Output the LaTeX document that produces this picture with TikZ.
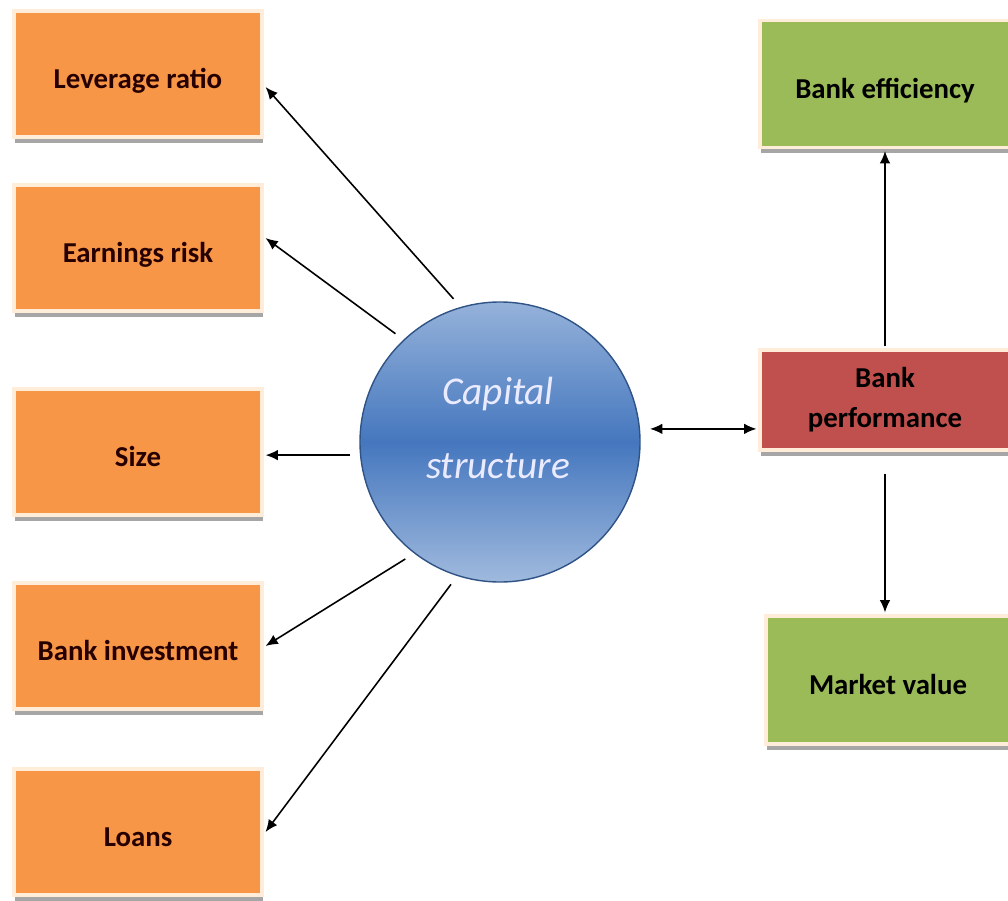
\documentclass[tikz,border=0pt]{standalone}
\usepackage{fontspec}
\setmainfont{Carlito}
\usepackage{tikz}
\usetikzlibrary{arrows.meta,shadows}
\definecolor{boxorange}{HTML}{F79646}
\definecolor{boxgreen}{HTML}{9BBB59}
\definecolor{boxred}{HTML}{C0504D}
\definecolor{capdark}{HTML}{4577BE}
\definecolor{caplight}{HTML}{95B2DA}

\begin{document}
\begin{tikzpicture}[
	tile/.style={rectangle, draw=white!85!orange, line width=0.9pt, minimum width=2.48cm, minimum height=1.26cm, inner sep=1pt, outer sep=1pt, align=center, font=\fontsize{8.2}{11.4}\selectfont\bfseries, drop shadow={shadow xshift=0.4pt, shadow yshift=-1.7pt, fill=black!35, opacity=1}},
	factor/.style={tile, fill=boxorange, text=black!85!red, text height=10pt, text depth=2pt},
	outcome/.style={tile, fill=boxgreen, text=black, text height=10pt, text depth=2pt},
	link/.style={-{Latex[length=3.5pt,width=3pt]}, line width=0.45pt}
	]
	\useasboundingbox (0,0) rectangle (10.08,9);
	\node[factor] (lev) at (1.38,8.26) {Leverage ratio};
	\node[factor] (earn) at (1.38,6.52) {Earnings risk};
	\node[factor] (size) at (1.38,4.48) {Size};
	\node[factor] (inv) at (1.38,2.54) {Bank investment};
	\node[factor] (loans) at (1.38,0.68) {Loans};
	\node[outcome, minimum width=2.5cm, minimum height=1.27cm] (eff) at (8.85,8.16) {Bank efficiency};
	\node[tile, fill=boxred, text=black, minimum width=2.5cm, minimum height=1.0cm] (perf) at (8.85,5.0) {Bank\\performance};
	\node[outcome, minimum width=2.44cm, minimum height=1.28cm] (mkt) at (8.88,2.2) {Market value};
	\node[circle, draw=capdark!70!black, line width=0.4pt, minimum size=2.8cm, inner sep=0pt, outer sep=3pt, top color=caplight, bottom color=caplight!90!white, middle color=capdark] (cap) at (5.0,4.58) {};
	\node[text=white!92!blue, align=center, font=\fontsize{11.2}{21}\selectfont\itshape] (captxt) at (4.98,4.72) {Capital\\structure};
	\draw[link] (cap.108) -- ([yshift=-0.13cm]lev.east);
	\draw[link] (cap.134) -- ([yshift=0.1cm]earn.east);
	\draw[link] (cap.185) -- (size.east |- cap.185);
	\draw[link] (cap.231) -- (inv.east);
	\draw[link] (cap.251) -- (loans.east);
	\draw[link, {Latex[length=3.5pt,width=3pt]}-{Latex[length=3.5pt,width=3pt]}] (cap.5) -- (cap.5 -| perf.west);
	\draw[link] (perf.north) -- (eff.south);
	\draw[link, shorten <=0.2cm] (perf.south) -- (perf.south |- mkt.north);
\end{tikzpicture}
\end{document}
